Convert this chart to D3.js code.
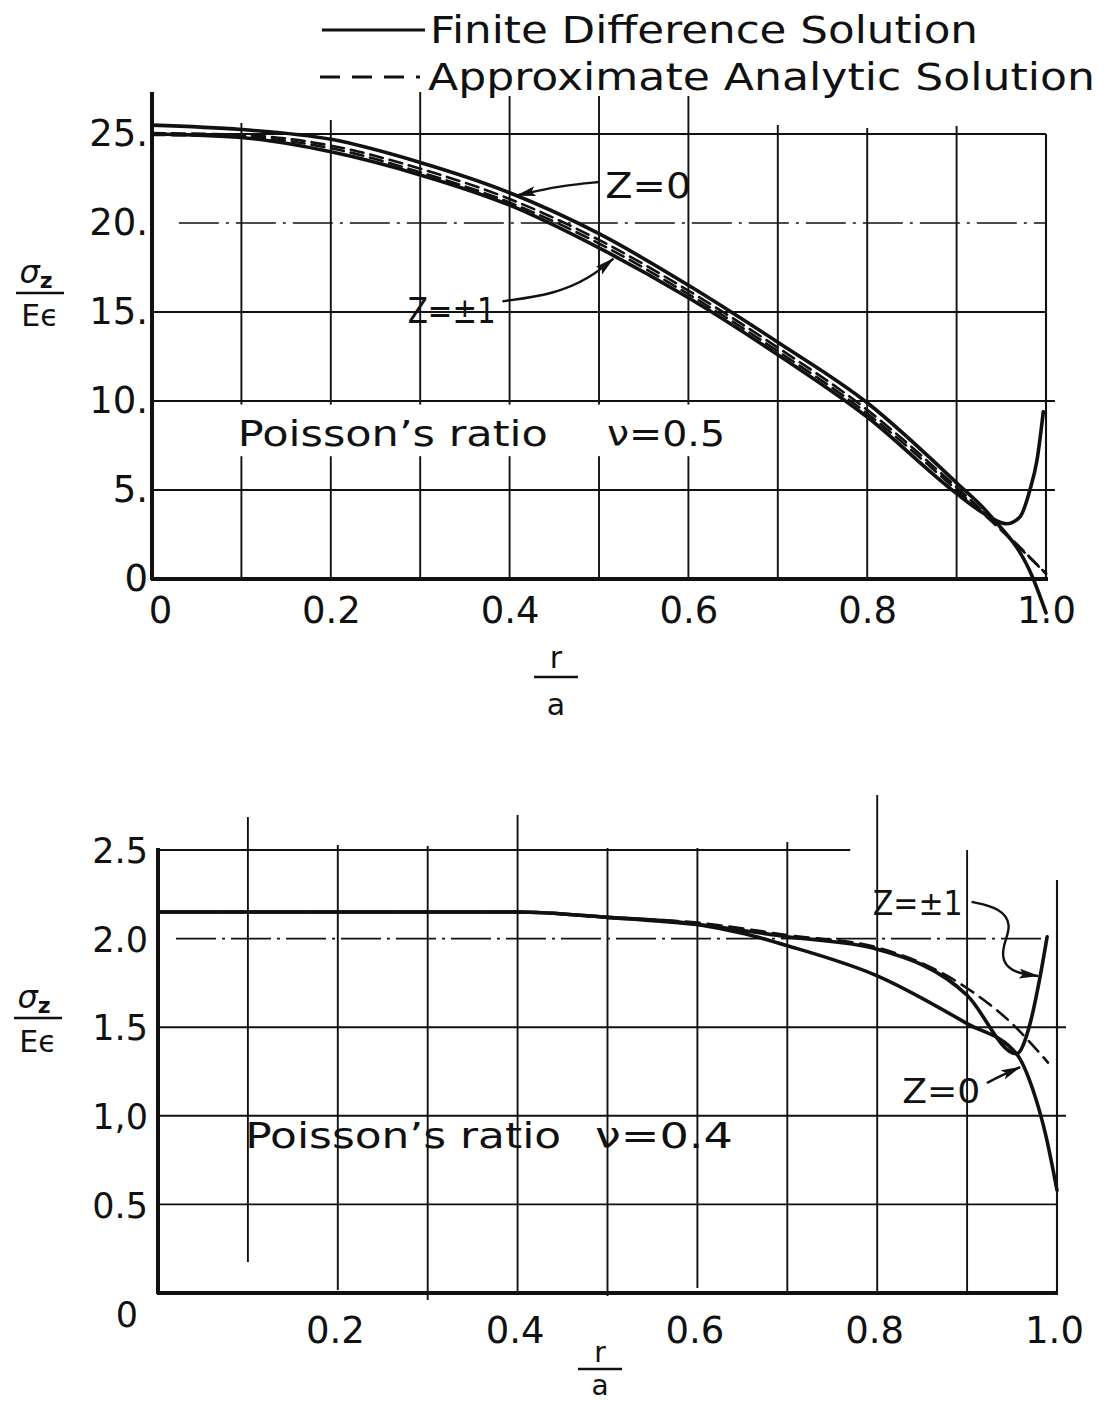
<!DOCTYPE html>
<html>
<head>
<meta charset="utf-8">
<script src="https://cdn.jsdelivr.net/npm/d3@7"></script>
<style>
  html, body { margin: 0; padding: 0; background: #fff; }
  svg { display: block; }
  text { font-family: "DejaVu Sans", "Liberation Sans", sans-serif; fill: #111; }
</style>
</head>
<body>
<svg id="chart" width="1104" height="1405"></svg>
<script>
// ---------- Poisson's ratio 0.5 (upper panel) ----------
const rFD0_a = [0, 0.1, 0.2, 0.3, 0.4, 0.5, 0.6, 0.7, 0.8, 0.9, 0.937, 0.985, 1.0];
const sFD0_a = [25.5, 25.25, 24.7, 23.4, 21.7, 19.4, 16.5, 13.3, 9.9, 5.4, 3.6, 0.1, -1.9];
const rFD1_a = [0, 0.1, 0.2, 0.3, 0.4, 0.5, 0.6, 0.7, 0.8, 0.9, 0.93, 0.956, 0.971, 0.982, 0.99, 0.997];
const sFD1_a = [25.0, 24.8, 24.0, 22.7, 21.0, 18.6, 15.8, 12.6, 9.1, 4.8, 3.7, 3.1, 3.5, 5.0, 6.7, 9.4];
const rAN_a  = [0, 0.1, 0.2, 0.3, 0.4, 0.5, 0.6, 0.7, 0.8, 0.9, 0.94, 1.0];
const sAN0_a = [25.05, 24.95, 24.35, 23.05, 21.35, 19.05, 16.2, 13.0, 9.5, 5.15, 3.3, 0.3];
const sAN1_a = [24.95, 24.85, 24.2, 22.85, 21.15, 18.85, 16.0, 12.8, 9.3, 5.0, 3.2, 0.3];

// ---------- Poisson's ratio 0.4 (lower panel) ----------
const rFD0_b = [0, 0.1, 0.2, 0.3, 0.4, 0.5, 0.6, 0.65, 0.7, 0.8, 0.9, 0.955, 0.973, 0.988, 1.0];
const sFD0_b = [2.15, 2.15, 2.15, 2.15, 2.15, 2.12, 2.08, 2.03, 1.96, 1.79, 1.52, 1.35, 1.15, 0.88, 0.58];
const rFD1_b = [0, 0.1, 0.2, 0.3, 0.4, 0.5, 0.6, 0.7, 0.8, 0.9, 0.955, 0.97, 0.981, 0.989];
const sFD1_b = [2.15, 2.15, 2.15, 2.15, 2.15, 2.12, 2.08, 2.01, 1.94, 1.68, 1.35, 1.52, 1.78, 2.01];
const rAN_b  = [0, 0.1, 0.2, 0.3, 0.4, 0.5, 0.6, 0.7, 0.8, 0.9, 0.95, 0.99];
const sAN_b  = [2.15, 2.15, 2.15, 2.15, 2.15, 2.12, 2.09, 2.02, 1.95, 1.72, 1.52, 1.30];

// ---------- ticks and labels ----------
const xTicks = [0, 0.2, 0.4, 0.6, 0.8, 1.0];
const xLabels = ["0", "0.2", "0.4", "0.6", "0.8", "1.0"];
const xGrid = [0.1, 0.2, 0.3, 0.4, 0.5, 0.6, 0.7, 0.8, 0.9];
const yTicksA = [0, 5, 10, 15, 20, 25];
const yLabelsA = ["0", "5.", "10.", "15.", "20.", "25."];
const yTicksB = [0, 0.5, 1.0, 1.5, 2.0, 2.5];
const yLabelsB = ["0", "0.5", "1,0", "1.5", "2.0", "2.5"];

const legendLabels = ["Finite Difference Solution", "Approximate Analytic Solution"];

const svg = d3.select("#chart");
const ink = "#111";
const GRID_W = 1.9, CURVE_W = 3.6, DASH_W = 2.6, AXIS_W = 4;

// scales for both panels
const xA = d3.scaleLinear().domain([0, 1]).range([152, 1046]);
const yA = d3.scaleLinear().domain([0, 25]).range([579, 134]);
const xB = d3.scaleLinear().domain([0, 1]).range([158, 1057]);
const yB = d3.scaleLinear().domain([0, 2.5]).range([1293, 850]);

// arrowhead for the call-out leaders
svg.append("defs").append("marker")
  .attr("id", "head").attr("viewBox", "0 0 20 10")
  .attr("refX", 19).attr("refY", 5)
  .attr("markerWidth", 20).attr("markerHeight", 10)
  .attr("markerUnits", "userSpaceOnUse").attr("orient", "auto")
  .append("path").attr("d", "M0,0 L20,5 L0,10 L4,5 Z").attr("fill", ink);

function gline(g, x1, y1, x2, y2, w, dash) {
  g.append("line").attr("x1", x1).attr("y1", y1).attr("x2", x2).attr("y2", y2)
    .attr("stroke", ink).attr("stroke-width", w)
    .attr("stroke-dasharray", dash || null);
}

function curve(g, x, y, rs, vs, w, dash) {
  const pts = rs.map((r, i) => [r, vs[i]]);
  g.append("path").datum(pts)
    .attr("d", d3.line().x(d => x(d[0])).y(d => y(d[1])).curve(d3.curveMonotoneX))
    .attr("fill", "none").attr("stroke", ink).attr("stroke-width", w)
    .attr("stroke-linejoin", "round").attr("stroke-linecap", "round")
    .attr("stroke-dasharray", dash || null);
}

function leader(g, x, y, pts) {
  g.append("path").datum(pts)
    .attr("d", d3.line().x(d => x(d[0])).y(d => y(d[1])).curve(d3.curveBasis))
    .attr("fill", "none").attr("stroke", ink).attr("stroke-width", 2.4)
    .attr("marker-end", "url(#head)");
}

function label(g, px, py, str, size, len) {
  const t = g.append("text").attr("x", px).attr("y", py)
    .attr("font-size", size).text(str);
  if (len) t.attr("textLength", len).attr("lengthAdjust", "spacingAndGlyphs");
  return t;
}

// ================= upper panel =================
const gA = svg.append("g");
// vertical grid, each line drawn to its own top
const gridTopA = {0.1: 123, 0.2: 120, 0.3: 92, 0.4: 96, 0.5: 96, 0.6: 96, 0.7: 125, 0.8: 128, 0.9: 126};
xGrid.forEach(r => gline(gA, xA(r), gridTopA[r], xA(r), yA(0), GRID_W));
// horizontal grid
gline(gA, xA(0), yA(25), xA(1), yA(25), GRID_W);
gline(gA, xA(0.03), yA(20), xA(1), yA(20), 1.7, "40,7,3,7");
gline(gA, xA(0), yA(15), xA(1), yA(15), GRID_W);
gline(gA, xA(0), yA(10), xA(1.01), yA(10), GRID_W);
gline(gA, xA(0), yA(5), xA(1.01), yA(5), GRID_W);
gline(gA, xA(1), yA(25), xA(1), yA(0), 2.1);
// band left clear around the panel note
gA.append("rect").attr("x", xA(0.09)).attr("y", yA(9.8)).attr("width", xA(0.66) - xA(0.09))
  .attr("height", yA(6.9) - yA(9.8)).attr("fill", "#fff");
// axes
gline(gA, xA(0), 92, xA(0), yA(0) + 1, AXIS_W);
gline(gA, xA(0) - 1, yA(0), xA(1) + 2, yA(0), AXIS_W);

const axYA = gA.append("g").attr("transform", `translate(${xA(0) - 4},0)`)
  .call(d3.axisLeft(yA).tickValues(yTicksA).tickFormat((d, i) => yLabelsA[i]).tickSize(0).tickPadding(0));
axYA.select(".domain").remove();
axYA.attr("font-family", null).attr("font-size", null);
axYA.selectAll("text").attr("font-size", 37).attr("fill", ink);

const axXA = gA.append("g").attr("transform", `translate(0,${yA(0)})`)
  .call(d3.axisBottom(xA).tickValues(xTicks).tickFormat((d, i) => xLabels[i]).tickSize(0).tickPadding(18));
axXA.select(".domain").remove();
axXA.attr("font-family", null).attr("font-size", null);
axXA.selectAll("text").attr("font-size", 37).attr("fill", ink)
  .attr("dx", d => d === 0 ? 8 : 0);

// curves
curve(gA, xA, yA, rAN_a, sAN0_a, DASH_W, "13,7");
curve(gA, xA, yA, rAN_a, sAN1_a, DASH_W, "13,7");
curve(gA, xA, yA, rFD0_a, sFD0_a, CURVE_W);
curve(gA, xA, yA, rFD1_a, sFD1_a, CURVE_W);

// call-outs
leader(gA, xA, yA, [[0.5, 22.3], [0.46, 22.1], [0.43, 21.8], [0.408, 21.55]]);
label(gA, xA(0.507), yA(21.4), "Z=0", 36, 86);
leader(gA, xA, yA, [[0.392, 15.6], [0.45, 16.0], [0.49, 16.9], [0.516, 18.0]]);
label(gA, xA(0.286), yA(14.4), "Z=±1", 36, 88);
label(gA, xA(0.096), yA(7.5), "Poisson’s ratio", 36, 310);
label(gA, xA(0.509), yA(7.5), "ν=0.5", 36, 118);

// ================= lower panel =================
const gB = svg.append("g");
const gridTopB = {0.1: 817, 0.2: 845, 0.3: 846, 0.4: 815, 0.5: 848, 0.6: 848, 0.7: 842, 0.8: 795, 0.9: 850};
const gridBotB = {0.1: 1262, 0.2: 1290, 0.3: 1300, 0.4: 1293, 0.5: 1296, 0.6: 1288, 0.7: 1293, 0.8: 1293, 0.9: 1293};
xGrid.forEach(r => gline(gB, xB(r), gridTopB[r], xB(r), gridBotB[r], GRID_W));
gline(gB, xB(0), yB(2.5), xB(0.77), yB(2.5), 2.1);
gline(gB, xB(0.02), yB(2.0), xB(0.99), yB(2.0), 1.7, "40,6,3,6");
gline(gB, xB(0), yB(1.5), xB(1.01), yB(1.5), GRID_W);
gline(gB, xB(0), yB(1.0), xB(1.01), yB(1.0), GRID_W);
gline(gB, xB(0), yB(0.5), xB(1.0), yB(0.5), GRID_W);
gline(gB, xB(1), 880, xB(1), yB(0), 2.1);
// axes
gline(gB, xB(0), yB(2.5) - 2, xB(0), yB(0) + 1, AXIS_W);
gline(gB, xB(0) - 1, yB(0), xB(1) + 1, yB(0), AXIS_W);

const axYB = gB.append("g").attr("transform", `translate(${xB(0) - 10},0)`)
  .call(d3.axisLeft(yB).tickValues(yTicksB).tickFormat((d, i) => yLabelsB[i]).tickSize(0).tickPadding(0));
axYB.select(".domain").remove();
axYB.attr("font-family", null).attr("font-size", null);
axYB.selectAll("text").attr("font-size", 35).attr("fill", ink)
  .attr("dy", d => d === 0 ? "0.95em" : "0.36em")
  .attr("dx", d => d === 0 ? -10 : 0);

const axXB = gB.append("g").attr("transform", `translate(0,${yB(0)})`)
  .call(d3.axisBottom(xB).tickValues(xTicks.slice(1)).tickFormat((d, i) => xLabels[i + 1]).tickSize(0).tickPadding(24));
axXB.select(".domain").remove();
axXB.attr("font-family", null).attr("font-size", null);
axXB.selectAll("text").attr("font-size", 37).attr("fill", ink).attr("dx", -3);

// curves
curve(gB, xB, yB, rAN_b, sAN_b, DASH_W, "14,8");
curve(gB, xB, yB, rFD0_b, sFD0_b, CURVE_W);
curve(gB, xB, yB, rFD1_b, sFD1_b, CURVE_W);

// call-outs
leader(gB, xB, yB, [[0.905, 2.207], [0.937, 2.173], [0.950, 2.077], [0.940, 1.964],
                    [0.939, 1.868], [0.953, 1.806], [0.979, 1.789]]);
label(gB, xB(0.795), yB(2.133), "Z=±1", 34, 90);
leader(gB, xB, yB, [[0.922, 1.185], [0.937, 1.225], [0.959, 1.275]]);
label(gB, xB(0.828), yB(1.072), "Z=0", 34, 78);
label(gB, xB(0.097), yB(0.818), "Poisson’s ratio", 36, 316);
label(gB, xB(0.486), yB(0.818), "ν=0.4", 36, 138);

// ================= axis titles =================
function fracY(cx, yNum, yLine, yDen, sub) {
  const g = svg.append("g");
  const t = g.append("text").attr("x", cx - 4).attr("y", yNum).attr("text-anchor", "middle")
    .attr("font-size", 32).attr("font-style", "italic");
  t.append("tspan").text("σ");
  t.append("tspan").attr("font-size", 22).attr("font-weight", "bold").attr("dy", 5).attr("font-style", "normal").text(sub);
  gline(g, cx - 24, yLine, cx + 24, yLine, 2.6);
  g.append("text").attr("x", cx).attr("y", yDen).attr("text-anchor", "middle")
    .attr("font-size", 30).text("Eϵ");
}
fracY(40, 283, 293, 326, "z");
fracY(38, 1008, 1018, 1052, "z");

function fracX(cx, yNum, yLine, yDen, size) {
  const g = svg.append("g");
  g.append("text").attr("x", cx).attr("y", yNum).attr("text-anchor", "middle").attr("font-size", size).text("r");
  gline(g, cx - 22, yLine, cx + 22, yLine, 2.6);
  g.append("text").attr("x", cx).attr("y", yDen).attr("text-anchor", "middle").attr("font-size", size).text("a");
}
fracX(556, 668, 677, 715, 30);
fracX(600, 1362, 1369, 1395, 28);

// ================= legend =================
const gL = svg.append("g");
gline(gL, 322, 30, 425, 30, 2.8);
label(gL, 430, 43, legendLabels[0], 37, 548);
gline(gL, 320, 77, 420, 77, 2.8, "20,12");
label(gL, 428, 90, legendLabels[1], 37, 667);
</script>
</body>
</html>
